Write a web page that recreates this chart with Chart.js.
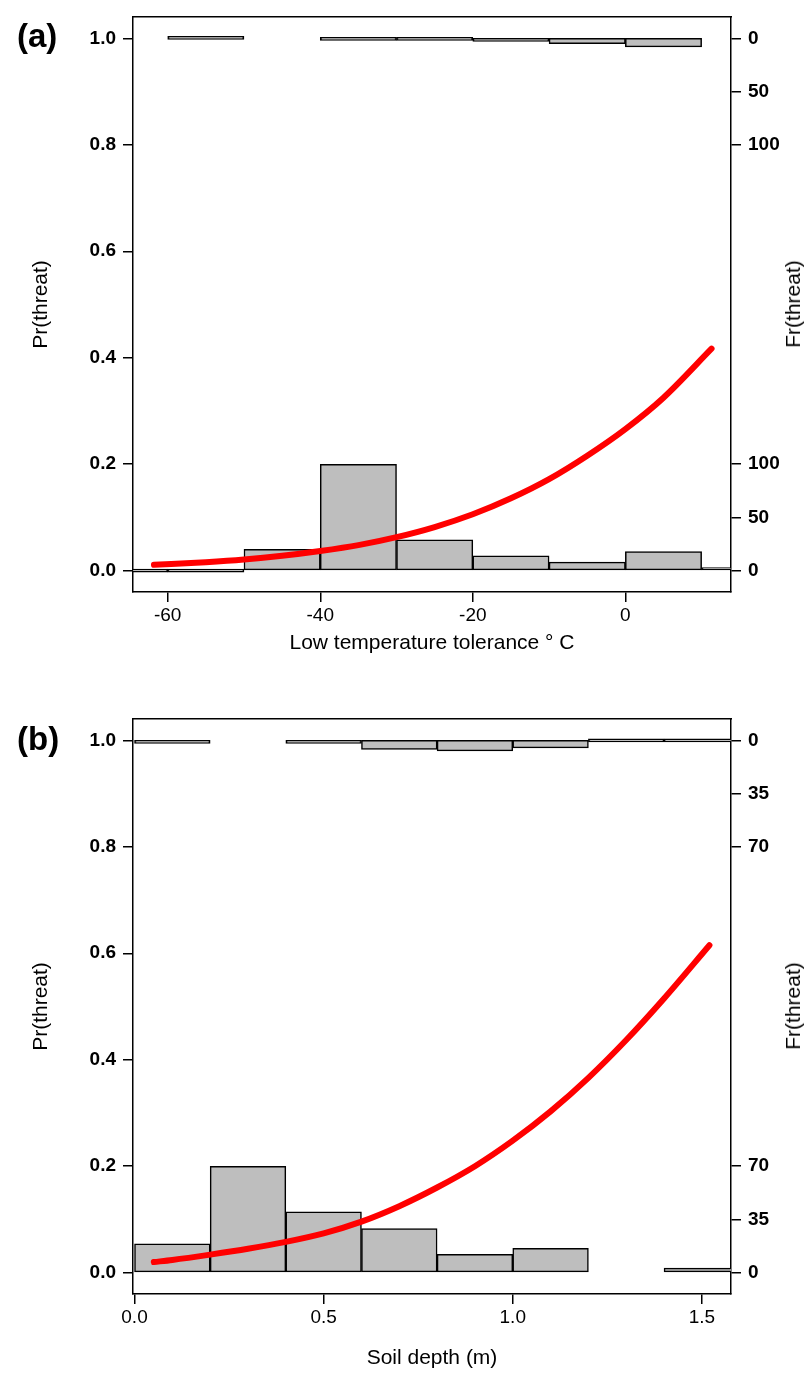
<!DOCTYPE html>
<html>
<head>
<meta charset="utf-8">
<script src="https://cdn.jsdelivr.net/npm/chart.js@4.4.1/dist/chart.umd.min.js"></script>
<style>
html,body{margin:0;padding:0;background:#fff;}
body{width:807px;height:1395px;position:relative;overflow:hidden;font-family:"Liberation Sans",Arial,Helvetica,sans-serif;color:#000;}
canvas{position:absolute;left:0;display:block;}
.tag{position:absolute;left:17px;font-weight:bold;font-size:33px;line-height:33px;}
.rtitle{position:absolute;font-size:21px;line-height:24px;white-space:nowrap;transform:translate(-50%,-50%) rotate(-90deg);}
</style>
</head>
<body>
<canvas id="chartA" width="807" height="697" style="top:0"></canvas>
<canvas id="chartB" width="807" height="697" style="top:702px"></canvas>
<div class="tag" style="top:19px">(a)</div>
<div class="tag" style="top:722px">(b)</div>
<div class="rtitle" style="left:793px;top:304px">Fr(threat)</div>
<div class="rtitle" style="left:793px;top:1006px">Fr(threat)</div>
<script>
// ---------- data ----------
const probTicks = [0, 0.2, 0.4, 0.6, 0.8, 1.0];
const probTickLabels = ['0.0', '0.2', '0.4', '0.6', '0.8', '1.0'];

// Panel (a): low temperature tolerance
const tempBinEdges = [-70, -60, -50, -40, -30, -20, -10, 0, 10, 20];
const tempCountsNotThreatened = [1, 1, 20, 100, 29, 14, 8, 18, 3];
const tempCountsThreatened = [0, 1, 0, 2, 2, 3, 5, 8, 0];
const tempCurveX = [-61.8, -55, -50, -45, -40, -35, -30, -25, -20, -15, -10, -5, 0, 5, 11.3];
const tempCurveY = [0.011, 0.016, 0.021, 0.028, 0.037, 0.048, 0.063, 0.082, 0.106, 0.136, 0.172, 0.216, 0.266, 0.325, 0.417];
const tempXTicks = [-60, -40, -20, 0];
const tempXTickLabels = ['-60', '-40', '-20', '0'];
const tempFreqTicks = [0, 50, 100];

// Panel (b): soil depth
const depthBinEdges = [0, 0.2, 0.4, 0.6, 0.8, 1.0, 1.2, 1.4, 1.6];
const depthCountsNotThreatened = [19, 70, 40, 29, 12, 16, 0, 3];
const depthCountsThreatened = [2, 0, 2, 6, 7, 5, 1, 1];
const depthCurveX = [0.051, 0.1, 0.2, 0.3, 0.4, 0.5, 0.6, 0.7, 0.8, 0.9, 1.0, 1.1, 1.2, 1.3, 1.4, 1.52];
const depthCurveY = [0.020, 0.024, 0.034, 0.045, 0.058, 0.074, 0.096, 0.125, 0.160, 0.200, 0.248, 0.303, 0.366, 0.437, 0.515, 0.615];
const depthXTicks = [0, 0.5, 1.0, 1.5];
const depthXTickLabels = ['0.0', '0.5', '1.0', '1.5'];
const depthFreqTicks = [0, 35, 70];

// ---------- layout ----------
const FONT = '"Liberation Sans", Arial, Helvetica, sans-serif';
const W = 807, H = 697;
const AREA_LEFT = 133, AREA_RIGHT = 731, AREA_TOP = 17, AREA_BOTTOM = 592;

Chart.defaults.font.family = FONT;
Chart.defaults.color = '#000';

function makePanel(id, p) {
  const maxCount = Math.max(...p.low, ...p.high);
  const k = 0.2 / maxCount; // tallest histogram bar reaches 0.2
  const lowBars = [], highBars = [];
  for (let i = 0; i < p.low.length; i++) {
    const mid = (p.edges[i] + p.edges[i + 1]) / 2;
    if (p.low[i] > 0) lowBars.push({x: mid, y: [0, p.low[i] * k]});
    if (p.high[i] > 0) highBars.push({x: mid, y: [1 - p.high[i] * k, 1]});
  }
  const curve = p.curveX.map((x, i) => ({x: x, y: p.curveY[i]}));
  const rightTicks = [];
  p.freq.forEach(c => {
    rightTicks.push({value: c * k, label: String(c)});
    rightTicks.push({value: 1 - c * k, label: String(c)});
  });
  rightTicks.sort((a, b) => a.value - b.value);

  const barStyle = {
    type: 'bar', backgroundColor: '#bebebe', borderColor: '#000', borderWidth: 1.5,
    borderSkipped: false, grouped: false, barPercentage: 1, categoryPercentage: 1,
    minBarLength: 3, order: 2
  };
  const tickGrid = {display: true, drawOnChartArea: false, drawTicks: true, tickLength: 10, color: '#000', lineWidth: 1.5, offset: false};
  const border = {display: true, color: '#000', width: 1.5};

  new Chart(document.getElementById(id), {
    type: 'bar',
    data: {
      datasets: [
        {type: 'line', data: curve, borderColor: '#f00', borderWidth: 6, pointRadius: 0,
         tension: 0.4, cubicInterpolationMode: 'monotone', borderCapStyle: 'round', fill: false, order: 0},
        Object.assign({}, barStyle, {data: lowBars}),
        Object.assign({}, barStyle, {data: highBars})
      ]
    },
    options: {
      responsive: false, animation: false, devicePixelRatio: 1,
      events: [],
      plugins: {legend: {display: false}, tooltip: {enabled: false}, title: {display: false}},
      layout: {padding: {left: 0, right: 0, top: AREA_TOP, bottom: 0}},
      scales: {
        x: {
          type: 'linear', position: 'bottom', min: p.xMin, max: p.xMax, offset: false, display: true,
          afterBuildTicks: s => { s.ticks = p.xTicks.map(v => ({value: v})); },
          afterFit: s => { s.height = H - AREA_BOTTOM; s.paddingLeft = 0; s.paddingRight = 0; },
          ticks: {autoSkip: false, maxRotation: 0, padding: 2, font: {size: 19}, color: '#000',
                  callback: (v, i) => p.xTickLabels[i]},
          grid: tickGrid, border: border,
          title: {display: true, text: p.xTitle, font: {size: 21}, color: '#000', padding: {top: 0, bottom: p.titleGap}}
        },
        xTop: {
          type: 'linear', position: 'top', min: p.xMin, max: p.xMax, offset: false, display: true,
          afterBuildTicks: s => { s.ticks = []; },
          afterFit: s => { s.height = 0; s.paddingLeft = 0; s.paddingRight = 0; },
          ticks: {display: false}, grid: {display: false}, border: border
        },
        y: {
          type: 'linear', position: 'left', min: -0.04, max: 1.04, display: true,
          afterBuildTicks: s => { s.ticks = probTicks.map(v => ({value: v})); },
          afterFit: s => { s.width = AREA_LEFT; s.paddingTop = 0; s.paddingBottom = 0; },
          ticks: {autoSkip: false, padding: 7, font: {size: 19, weight: 'bold'}, color: '#000',
                  callback: (v, i) => probTickLabels[i]},
          grid: tickGrid, border: border,
          title: {display: true, text: 'Pr(threat)', font: {size: 21}, color: '#000', padding: {top: 29, bottom: 0}}
        },
        y2: {
          type: 'linear', position: 'right', min: -0.04, max: 1.04, display: true,
          afterBuildTicks: s => { s.ticks = rightTicks.map(t => ({value: t.value})); },
          afterFit: s => { s.width = W - AREA_RIGHT; s.paddingTop = 0; s.paddingBottom = 0; },
          ticks: {autoSkip: false, padding: 7, font: {size: 19, weight: 'bold'}, color: '#000',
                  callback: (v, i) => rightTicks[i].label},
          grid: tickGrid, border: border
        }
      }
    }
  });
}

makePanel('chartA', {
  edges: tempBinEdges, low: tempCountsNotThreatened, high: tempCountsThreatened,
  curveX: tempCurveX, curveY: tempCurveY, xTicks: tempXTicks, xTickLabels: tempXTickLabels,
  freq: tempFreqTicks, xMin: -64.55, xMax: 13.85, xTitle: 'Low temperature tolerance \u00B0 C', titleGap: 41
});
makePanel('chartB', {
  edges: depthBinEdges, low: depthCountsNotThreatened, high: depthCountsThreatened,
  curveX: depthCurveX, curveY: depthCurveY, xTicks: depthXTicks, xTickLabels: depthXTickLabels,
  freq: depthFreqTicks, xMin: -0.004, xMax: 1.577, xTitle: 'Soil depth (m)', titleGap: 28
});
</script>
</body>
</html>
